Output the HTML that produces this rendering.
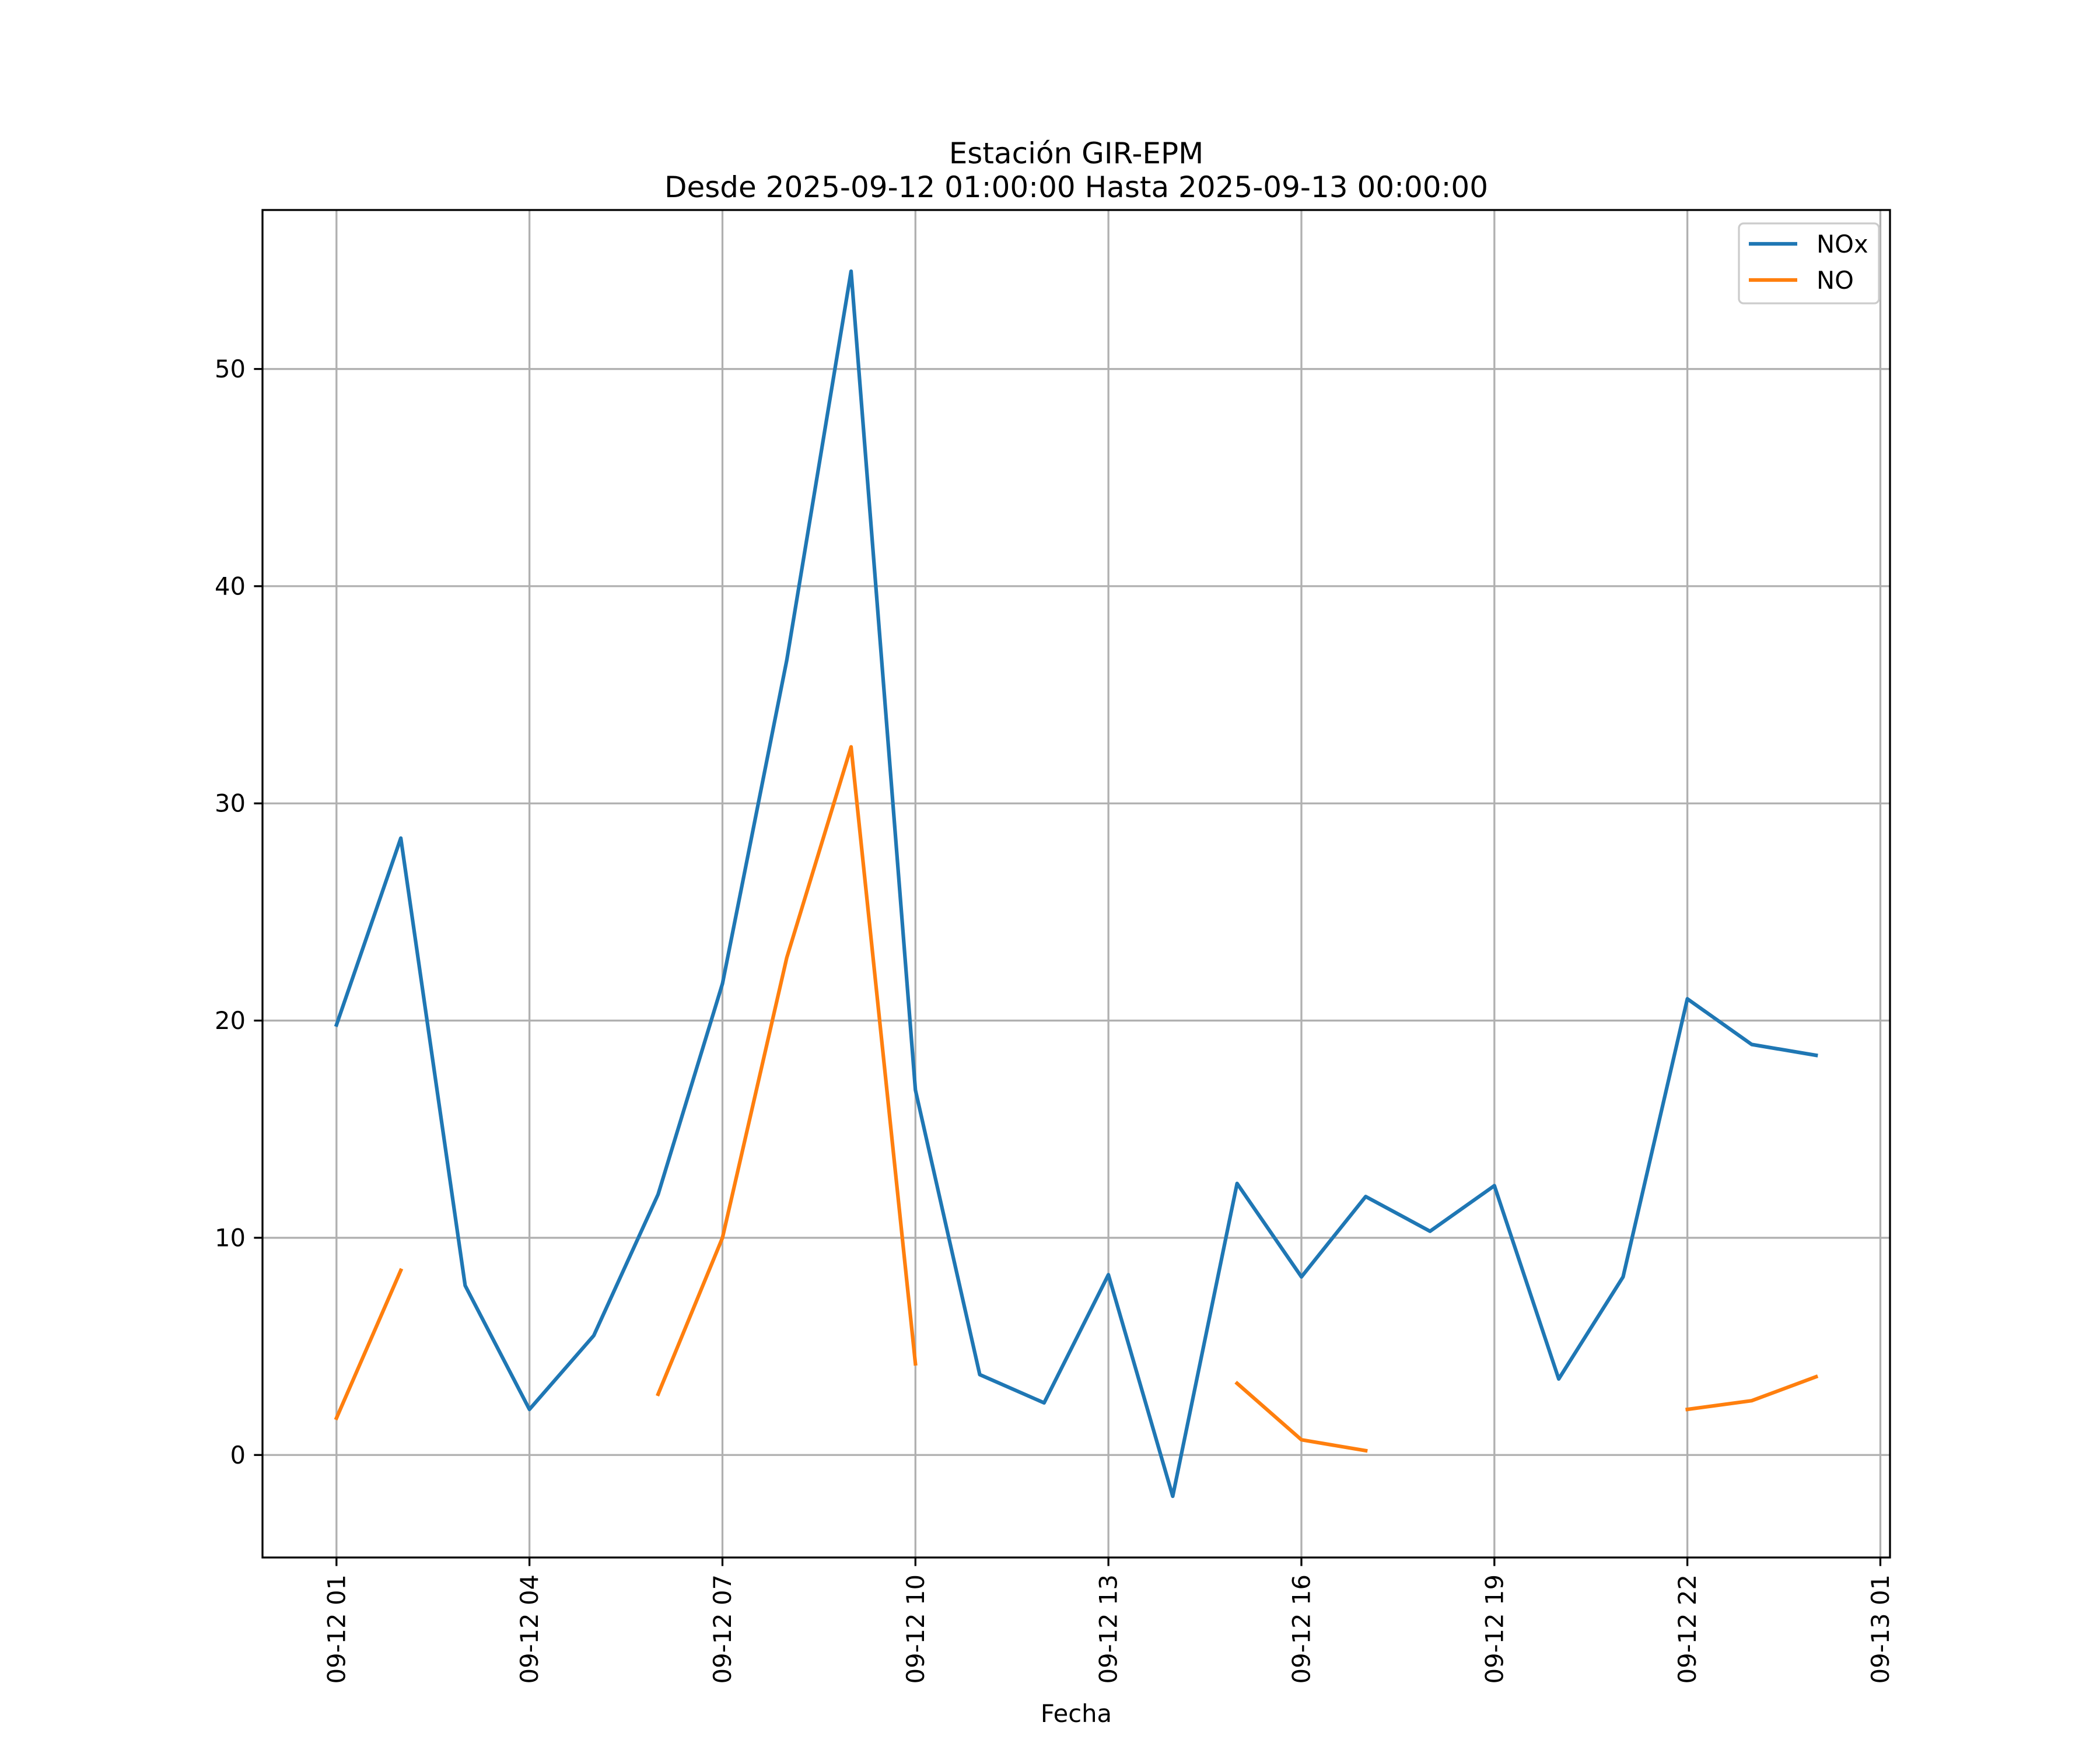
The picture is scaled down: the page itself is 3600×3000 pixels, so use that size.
<!DOCTYPE html>
<html><head><meta charset="utf-8"><style>body{margin:0;background:#fff}svg{display:block}text{font-family:"DejaVu Sans","Liberation Sans",sans-serif}</style></head>
<body>
<svg id="chart" width="3600" height="3000" viewBox="0 0 3600 3000" xmlns="http://www.w3.org/2000/svg">
<rect width="3600" height="3000" fill="#fff"/>
<text x="1845" y="280" font-size="50" text-anchor="middle">Estación GIR-EPM</text>
<text x="1845" y="338" font-size="50" text-anchor="middle">Desde 2025-09-12 01:00:00 Hasta 2025-09-13 00:00:00</text>
<g id="grid"></g>
<g id="series"></g>
<rect x="450" y="360" width="2790" height="2310" fill="none" stroke="#000" stroke-width="3.3"/>
<g id="ticks"></g>
<text x="1845" y="2952" font-size="41.7" text-anchor="middle">Fecha</text>
<g transform="translate(-14,0)">
<rect x="2995" y="383" width="240" height="137" rx="8" fill="#fff" fill-opacity="0.8" stroke="#ccc" stroke-width="3.3"/>
<line x1="3012" y1="418" x2="3095" y2="418" stroke="#1f77b4" stroke-width="6.25"/>
<text x="3128" y="433" font-size="41.7">NOx</text>
<line x1="3012" y1="480" x2="3095" y2="480" stroke="#ff7f0e" stroke-width="6.25"/>
<text x="3128" y="495" font-size="41.7">NO</text>
</g>
</svg>
<script>
const hours = [1,2,3,4,5,6,7,8,9,10,11,12,13,14,15,16,17,18,19,20,21,22,23,24];
const noxValues = [19.8,28.4,7.8,2.1,5.5,12.0,21.7,36.6,54.5,16.8,3.7,2.4,8.3,-1.9,12.5,8.2,11.9,10.3,12.4,3.5,8.2,21.0,18.9,18.4];
const noValues = [1.7,8.5,null,null,null,2.8,10.0,22.9,32.6,4.2,null,null,null,null,3.3,0.7,0.2,null,null,null,null,2.1,2.5,3.6];
const xTickHours = [1,4,7,10,13,16,19,22,25];
const xTickLabels = ["09-12 01","09-12 04","09-12 07","09-12 10","09-12 13","09-12 16","09-12 19","09-12 22","09-13 01"];
const yTicks = [0,10,20,30,40,50];

const NS="http://www.w3.org/2000/svg";
const L=450,R=3240,T=360,B=2670;
const all=noxValues.concat(noValues).filter(v=>v!==null);
const ymn=Math.min(...all),ymx=Math.max(...all),yp=(ymx-ymn)*0.05;
const y0=ymn-yp,y1=ymx+yp;
const xmn=Math.min(...hours),xmx=Math.max(...hours),xp=(xmx-xmn)*0.05;
const x0=xmn-xp,x1=xmx+xp;
const sx=h=>L+(h-x0)/(x1-x0)*(R-L);
const sy=v=>B-(v-y0)/(y1-y0)*(B-T);
function mk(tag,attrs,parent){const e=document.createElementNS(NS,tag);for(const k in attrs)e.setAttribute(k,attrs[k]);parent.appendChild(e);return e;}
const grid=document.getElementById('grid'),ticks=document.getElementById('ticks'),series=document.getElementById('series');
xTickHours.forEach((h,i)=>{
  const x=sx(h);
  const g=mk('line',{x1:x,x2:x,y1:T,y2:B,stroke:'#b0b0b0','stroke-width':3.3},grid);
  
  
  const t=mk('line',{x1:x,x2:x,y1:B,y2:B+14.6,stroke:'#000','stroke-width':3.3},ticks);
  
  
  const lb=mk('text',{x:0,y:0,'font-size':41.7,'text-anchor':'end','dominant-baseline':'central',transform:`translate(${x},${B+29}) rotate(-90)`},ticks);
  lb.textContent=xTickLabels[i];
  
  
});
yTicks.forEach(v=>{
  const y=sy(v);
  const g=mk('line',{x1:L,x2:R,y1:y,y2:y,stroke:'#b0b0b0','stroke-width':3.3},grid);
  
  
  const t=mk('line',{x1:L-14.6,x2:L,y1:y,y2:y,stroke:'#000','stroke-width':3.3},ticks);
  
  
  const lb=mk('text',{x:L-29,y:y,'font-size':41.7,'text-anchor':'end','dominant-baseline':'central'},ticks);
  lb.textContent=String(v);
  
  
});
function drawSeries(vals,color,name){
  let d='',pen=false;
  vals.forEach((v,i)=>{
    if(v===null){pen=false;return;}
    d+=(pen?'L':'M')+sx(hours[i]).toFixed(1)+','+sy(v).toFixed(1)+' ';pen=true;
  });
  const p=mk('path',{d:d,fill:'none',stroke:color,'stroke-width':6.25,'stroke-linejoin':'round','stroke-linecap':'square'},series);
  
  
}
drawSeries(noxValues,'#1f77b4','nox-line');
drawSeries(noValues,'#ff7f0e','no-line');
</script>
</body></html>
